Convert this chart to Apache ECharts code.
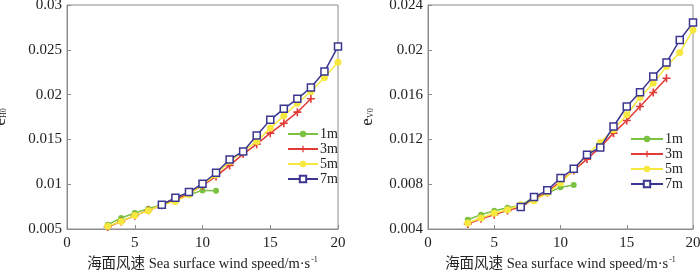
<!DOCTYPE html>
<html>
<head>
<meta charset="utf-8">
<script src="https://cdn.jsdelivr.net/npm/echarts@6/dist/echarts.min.js"></script>
<style>
  html,body{margin:0;padding:0;background:#fff;}
  #chart{width:700px;height:270px;}
</style>
</head>
<body>
<div id="chart"></div>
<script>
  // 风速 (m/s)
  var speeds1m = [3, 4, 5, 6, 7, 8, 9, 10, 11];
  var speeds3m = [3, 4, 5, 6, 7, 8, 9, 10, 11, 12, 13, 14, 15, 16, 17, 18];
  var speeds5m = [3, 4, 5, 6, 7, 8, 9, 10, 11, 12, 13, 14, 15, 16, 17, 18, 19, 20];
  var speeds7m = [7, 8, 9, 10, 11, 12, 13, 14, 15, 16, 17, 18, 19, 20];

  // e_H0
  var h1m = [0.00548, 0.00623, 0.00678, 0.00727, 0.00771, 0.00845, 0.00883, 0.00931, 0.00927];
  var h3m = [0.00522, 0.00585, 0.00649, 0.00708, 0.00764, 0.00827, 0.00894, 0.00983, 0.01087, 0.0121, 0.01336, 0.01447, 0.0157, 0.01681, 0.01804, 0.01953];
  var h5m = [0.0053, 0.00585, 0.00652, 0.00704, 0.00771, 0.00808, 0.00883, 0.00994, 0.01105, 0.01254, 0.01366, 0.01477, 0.01626, 0.01763, 0.01904, 0.02034, 0.0219, 0.02361];
  var h7m = [0.00771, 0.00849, 0.00912, 0.01005, 0.01128, 0.01276, 0.01366, 0.01544, 0.01718, 0.01841, 0.01953, 0.02079, 0.02257, 0.02536];

  // e_V0
  var v1m = [0.00483, 0.00528, 0.00563, 0.0059, 0.00611, 0.00685, 0.00721, 0.00772, 0.00792];
  var v3m = [0.00445, 0.00492, 0.00528, 0.00566, 0.00596, 0.00667, 0.00727, 0.00825, 0.00923, 0.01024, 0.01131, 0.01256, 0.01369, 0.01494, 0.01619, 0.01746];
  var v5m = [0.00453, 0.00498, 0.0054, 0.00572, 0.00617, 0.00653, 0.00721, 0.0081, 0.00929, 0.01063, 0.01173, 0.01286, 0.01419, 0.01574, 0.01702, 0.0185, 0.01975, 0.02177];
  var v7m = [0.00596, 0.00685, 0.00745, 0.00855, 0.00938, 0.01063, 0.01128, 0.01315, 0.01494, 0.01622, 0.01761, 0.01886, 0.02088, 0.02243];

  var heights = ['1m', '3m', '5m', '7m'];
  var colors = ['#7cc242', '#e23a36', '#f6e83e', '#3b3690'];
  var symbols = ['circle', 'path://M4,0H6V4H10V6H6V10H4V6H0V4H4Z', 'circle', 'rect'];
  var symbolSizes = [6, 8, 7, 7];

  var font = "'Liberation Serif', 'Times New Roman', 'Noto Sans CJK SC', serif";
  var axisColor = '#8c8c8c';

  function pairs(xs, ys) {
    var out = [];
    for (var i = 0; i < xs.length; i++) { out.push([xs[i], ys[i]]); }
    return out;
  }

  function makeSeries(idx, gridIdx, xs, ys) {
    var hollow = heights[idx] === '7m';
    return {
      name: heights[idx],
      type: 'line',
      xAxisIndex: gridIdx,
      yAxisIndex: gridIdx,
      symbol: symbols[idx],
      symbolSize: symbolSizes[idx],
      showSymbol: true,
      data: pairs(xs, ys),
      lineStyle: {color: colors[idx], width: 1.5},
      itemStyle: hollow
        ? {color: '#fff', borderColor: colors[idx], borderWidth: 1.5}
        : {color: colors[idx], borderWidth: 0},
      z: 2 + idx,
      animation: false
    };
  }

  function xAxisOf(gridIdx) {
    return {
      gridIndex: gridIdx,
      type: 'value',
      min: 0, max: 20, interval: 5,
      name: '{a|海面风速 Sea surface wind speed/m·s}{b|-1}',
      nameLocation: 'middle',
      nameGap: 27,
      nameTextStyle: {
        rich: {
          a: {fontFamily: font, fontSize: 14.5, color: '#222'},
          b: {fontFamily: font, fontSize: 8, color: '#222', verticalAlign: 'top', padding: [0, 0, 8, 1]}
        }
      },
      axisLine: {lineStyle: {color: axisColor, width: 1}},
      axisTick: {show: true, inside: true, length: 4, lineStyle: {color: axisColor}},
      axisLabel: {fontFamily: font, fontSize: 15, color: '#222', margin: 7},
      splitLine: {show: false}
    };
  }

  function yAxisOf(gridIdx, min, max, step, sub, gap) {
    return {
      gridIndex: gridIdx,
      type: 'value',
      min: min, max: max, interval: step,
      name: '{e|e}{s|' + sub + '}',
      nameLocation: 'middle',
      nameGap: gap,
      nameRotate: 90,
      nameTextStyle: {
        rich: {
          e: {fontFamily: font, fontSize: 17, color: '#222'},
          s: {fontFamily: font, fontSize: 8, color: '#222', padding: [7, 0, 0, 0]}
        }
      },
      axisLine: {lineStyle: {color: axisColor, width: 1}},
      axisTick: {show: true, inside: true, length: 4, lineStyle: {color: axisColor}},
      axisLabel: {fontFamily: font, fontSize: 15, color: '#222', margin: 5},
      splitLine: {show: false}
    };
  }

  function legendOf(left, top, w) {
    return {
      orient: 'vertical',
      left: left, top: top,
      itemWidth: w, itemHeight: 8,
      itemGap: 1,
      data: heights,
      textStyle: {fontFamily: font, fontSize: 14, color: '#222', padding: [0, 0, 0, -3]}
    };
  }

  var chart = echarts.init(document.getElementById('chart'));

  var series = [];
  var leftData = [h1m, h3m, h5m, h7m];
  var rightData = [v1m, v3m, v5m, v7m];
  var speedSets = [speeds1m, speeds3m, speeds5m, speeds7m];
  for (var i = 0; i < 4; i++) { series.push(makeSeries(i, 0, speedSets[i], leftData[i])); }
  for (var j = 0; j < 4; j++) { series.push(makeSeries(j, 1, speedSets[j], rightData[j])); }

  var option = {
    backgroundColor: '#fff',
    animation: false,
    grid: [
      {left: 67, right: 362, top: 5, bottom: 41, show: true, borderColor: axisColor, borderWidth: 1, outerBoundsMode: 'none', containLabel: false},
      {left: 428, right: 7, top: 5, bottom: 41, show: true, borderColor: axisColor, borderWidth: 1, outerBoundsMode: 'none', containLabel: false}
    ],
    legend: [legendOf(282, 122, 30), legendOf(625, 127, 32)],
    xAxis: [xAxisOf(0), xAxisOf(1)],
    yAxis: [
      yAxisOf(0, 0.005, 0.03, 0.005, 'H0', 58),
      yAxisOf(1, 0.004, 0.024, 0.004, 'V0', 52)
    ],
    series: series
  };

  option && chart.setOption(option);
</script>
</body>
</html>
